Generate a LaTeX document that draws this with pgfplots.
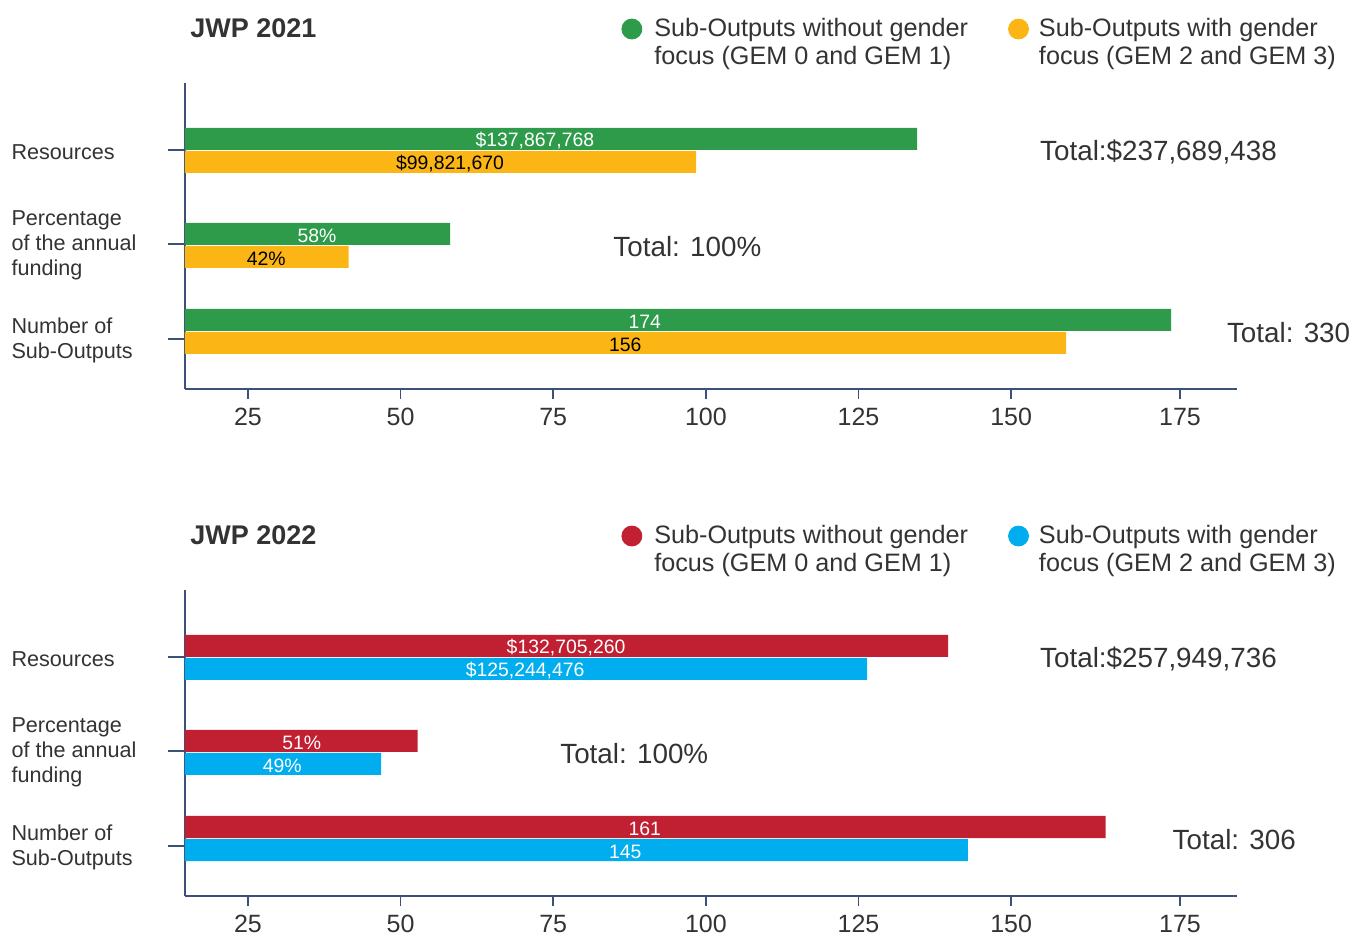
\documentclass[border=0pt]{standalone}
\usepackage{fontspec}
\setmainfont{Liberation Sans}
\usepackage{pgfplots}
\usepackage{pgfplotstable}
\pgfplotsset{compat=1.18}
\definecolor{cgreen}{HTML}{2E9B4A}
\definecolor{cyellow}{HTML}{FBB616}
\definecolor{cred}{HTML}{C12033}
\definecolor{cblue}{HTML}{00AEEF}
\definecolor{caxis}{HTML}{3D5077}
\definecolor{ctext}{HTML}{333333}

% y values are panel-relative pixel rows (negated)
\pgfplotstableread{
x y
134.6 -139
58.1 -234
176.2 -320
}\greenA
\pgfplotstableread{
x y
98.4 -162
41.5 -257
159.0 -343
}\yellowA
\pgfplotstableread{
x y
139.7 -139
52.8 -234
165.5 -320
}\redB
\pgfplotstableread{
x y
126.4 -162
46.8 -257
142.9 -343
}\blueB

\pgfplotsset{panel/.style={
  scale only axis, width=526pt, height=153pt,
  xmin=14.68, xmax=187.0, ymin=-389, ymax=-83,
  axis lines=left, axis line style={-, caxis, line width=1pt},
  xtick={25,50,75,100,125,150,177.66}, xticklabels={25,50,75,100,125,150,175},
  ytick={-339,-244,-150}, yticklabels={},
  tick align=outside, major tick length=5pt,
  tick style={caxis, line width=0.75pt},
  ytick style={line width=1pt, /pgfplots/major tick length=8.5pt},
  xticklabel style={font=\fontsize{12.5}{14}\selectfont, text=ctext, yshift=-1pt},
  clip mode=individual,
  legend columns=2,
  legend style={draw=none, fill=none, inner sep=0pt, anchor=north west,
    at={(0.4145,1.2255)},
    font=\fontsize{12.6}{14}\selectfont, text=ctext,
    nodes={align=left},
    /tikz/every even column/.append style={column sep=18pt}},
  legend cell align=left,
}}
\tikzset{
  barlab/.style={font=\fontsize{9.7}{11}\selectfont},
  catlab/.style={anchor=west, align=left, inner sep=0pt, font=\fontsize{10.8}{12.5}\selectfont, text=ctext},
  totlab/.style={anchor=west, inner sep=0pt, font=\fontsize{13.9}{16}\selectfont, text=ctext},
  titlab/.style={anchor=west, inner sep=0pt, font=\bfseries\fontsize{13.5}{16}\selectfont, text=ctext},
}
\newcommand{\dotA}[1]{\addlegendimage{legend image code/.code={\fill[#1] (0.3cm,7pt) circle (5pt); \path (0.6cm+0.5pt,0pt);}}}
\newcommand{\dotB}[1]{\addlegendimage{legend image code/.code={\fill[#1] (0.3cm,7pt) circle (5pt); \path (0.6cm-0.5pt,0pt);}}}

\begin{document}
\begin{tikzpicture}
\path[use as bounding box] (0,0) rectangle (675.5pt,-467.5pt);

% ---------------- JWP 2021 ----------------
\begin{axis}[panel, at={(92.5pt,-194.5pt)}, anchor=south west]
\addplot[forget plot, xbar, bar width=22, fill=cgreen, draw=none] table {\greenA};
\addplot[forget plot, xbar, bar width=22, fill=cyellow, draw=none] table {\yellowA};
\addplot[forget plot, draw=none, mark=none, nodes near coords, point meta=explicit symbolic,
  every node near coord/.append style={anchor=center, barlab, text=white}]
  table[meta=lab] {
x y lab
72.0 -140.5 {\$137,867,768}
36.3 -235.5 {58\%}
90.0 -321.5 {174}
};
\addplot[forget plot, draw=none, mark=none, nodes near coords, point meta=explicit symbolic,
  every node near coord/.append style={anchor=center, barlab, text=black}]
  table[meta=lab] {
x y lab
58.1 -163.5 {\$99,821,670}
28.0 -258.5 {42\%}
86.8 -344.5 {156}
};
\dotA{cgreen}
\addlegendentry{Sub-Outputs without gender\\focus (GEM 0 and GEM 1)}
\dotB{cyellow}
\addlegendentry{Sub-Outputs with gender\\focus (GEM 2 and GEM 3)}
\node[titlab] at (axis cs:15.5,-28) {JWP 2021};
\node[catlab] at (axis cs:-13.8,-152) {Resources};
\node[catlab] at (axis cs:-13.8,-245) {Percentage\\of the annual\\funding};
\node[catlab] at (axis cs:-13.8,-340) {Number of\\Sub-Outputs};
\node[totlab] at (axis cs:154.7,-152) {Total:\$237,689,438};
\node[totlab] at (axis cs:84.8,-247) {Total: 100\%};
\node[totlab] at (axis cs:185.3,-333) {Total: 330};
\end{axis}

% ---------------- JWP 2022 ----------------
\begin{axis}[panel, at={(92.5pt,-448pt)}, anchor=south west]
\addplot[forget plot, xbar, bar width=22, fill=cred, draw=none] table {\redB};
\addplot[forget plot, xbar, bar width=22, fill=cblue, draw=none] table {\blueB};
\addplot[forget plot, draw=none, mark=none, nodes near coords, point meta=explicit symbolic,
  every node near coord/.append style={anchor=center, barlab, text=white}]
  table[meta=lab] {
x y lab
77.1 -140.5 {\$132,705,260}
33.8 -235.5 {51\%}
90.0 -321.5 {161}
70.4 -163.5 {\$125,244,476}
30.6 -258.5 {49\%}
86.8 -344.5 {145}
};
\dotA{cred}
\addlegendentry{Sub-Outputs without gender\\focus (GEM 0 and GEM 1)}
\dotB{cblue}
\addlegendentry{Sub-Outputs with gender\\focus (GEM 2 and GEM 3)}
\node[titlab] at (axis cs:15.5,-28) {JWP 2022};
\node[catlab] at (axis cs:-13.8,-152) {Resources};
\node[catlab] at (axis cs:-13.8,-245) {Percentage\\of the annual\\funding};
\node[catlab] at (axis cs:-13.8,-340) {Number of\\Sub-Outputs};
\node[totlab] at (axis cs:154.7,-152) {Total:\$257,949,736};
\node[totlab] at (axis cs:76.1,-247) {Total: 100\%};
\node[totlab] at (axis cs:176.4,-333) {Total: 306};
\end{axis}
\end{tikzpicture}
\end{document}
